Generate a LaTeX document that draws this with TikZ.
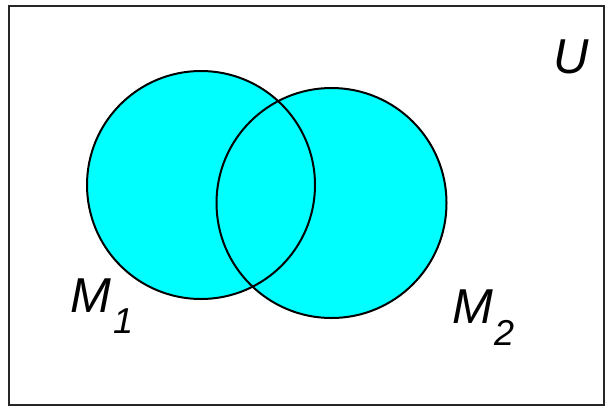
\documentclass[tikz,border=0pt]{standalone}
\usepackage{fontspec}
\setmainfont{Liberation Sans}
\definecolor{aqua}{RGB}{0,255,255}
\begin{document}
\begin{tikzpicture}[x=1pt,y=-1pt,
  setcircle/.style={circle,inner sep=0pt,outer sep=0pt},
  lbl/.style={anchor=base west,inner sep=0pt,font=\fontsize{49}{49}\selectfont\itshape},
  sublbl/.style={anchor=base west,inner sep=0pt,font=\fontsize{36}{36}\selectfont\itshape}]
\useasboundingbox (0,0) rectangle (609,407);
\draw[line width=2pt,black!85] (9,6) rectangle (604,405);
\node[setcircle,minimum size=228pt,fill=aqua] (m1) at (201,185) {};
\node[setcircle,minimum size=230pt,fill=aqua] (m2) at (331.5,203) {};
\draw[line width=2pt] (m1.center) circle[radius=114];
\draw[line width=2pt] (m2.center) circle[radius=115];
\node[lbl] (lm1) at (70,312) {M};
\node[sublbl] (l1) at (113,333) {1};
\node[lbl] (lm2) at (452,323) {M};
\node[sublbl] (l2) at (494,345) {2};
\node[lbl] (lu) at (553,73) {U};
\end{tikzpicture}
\end{document}
